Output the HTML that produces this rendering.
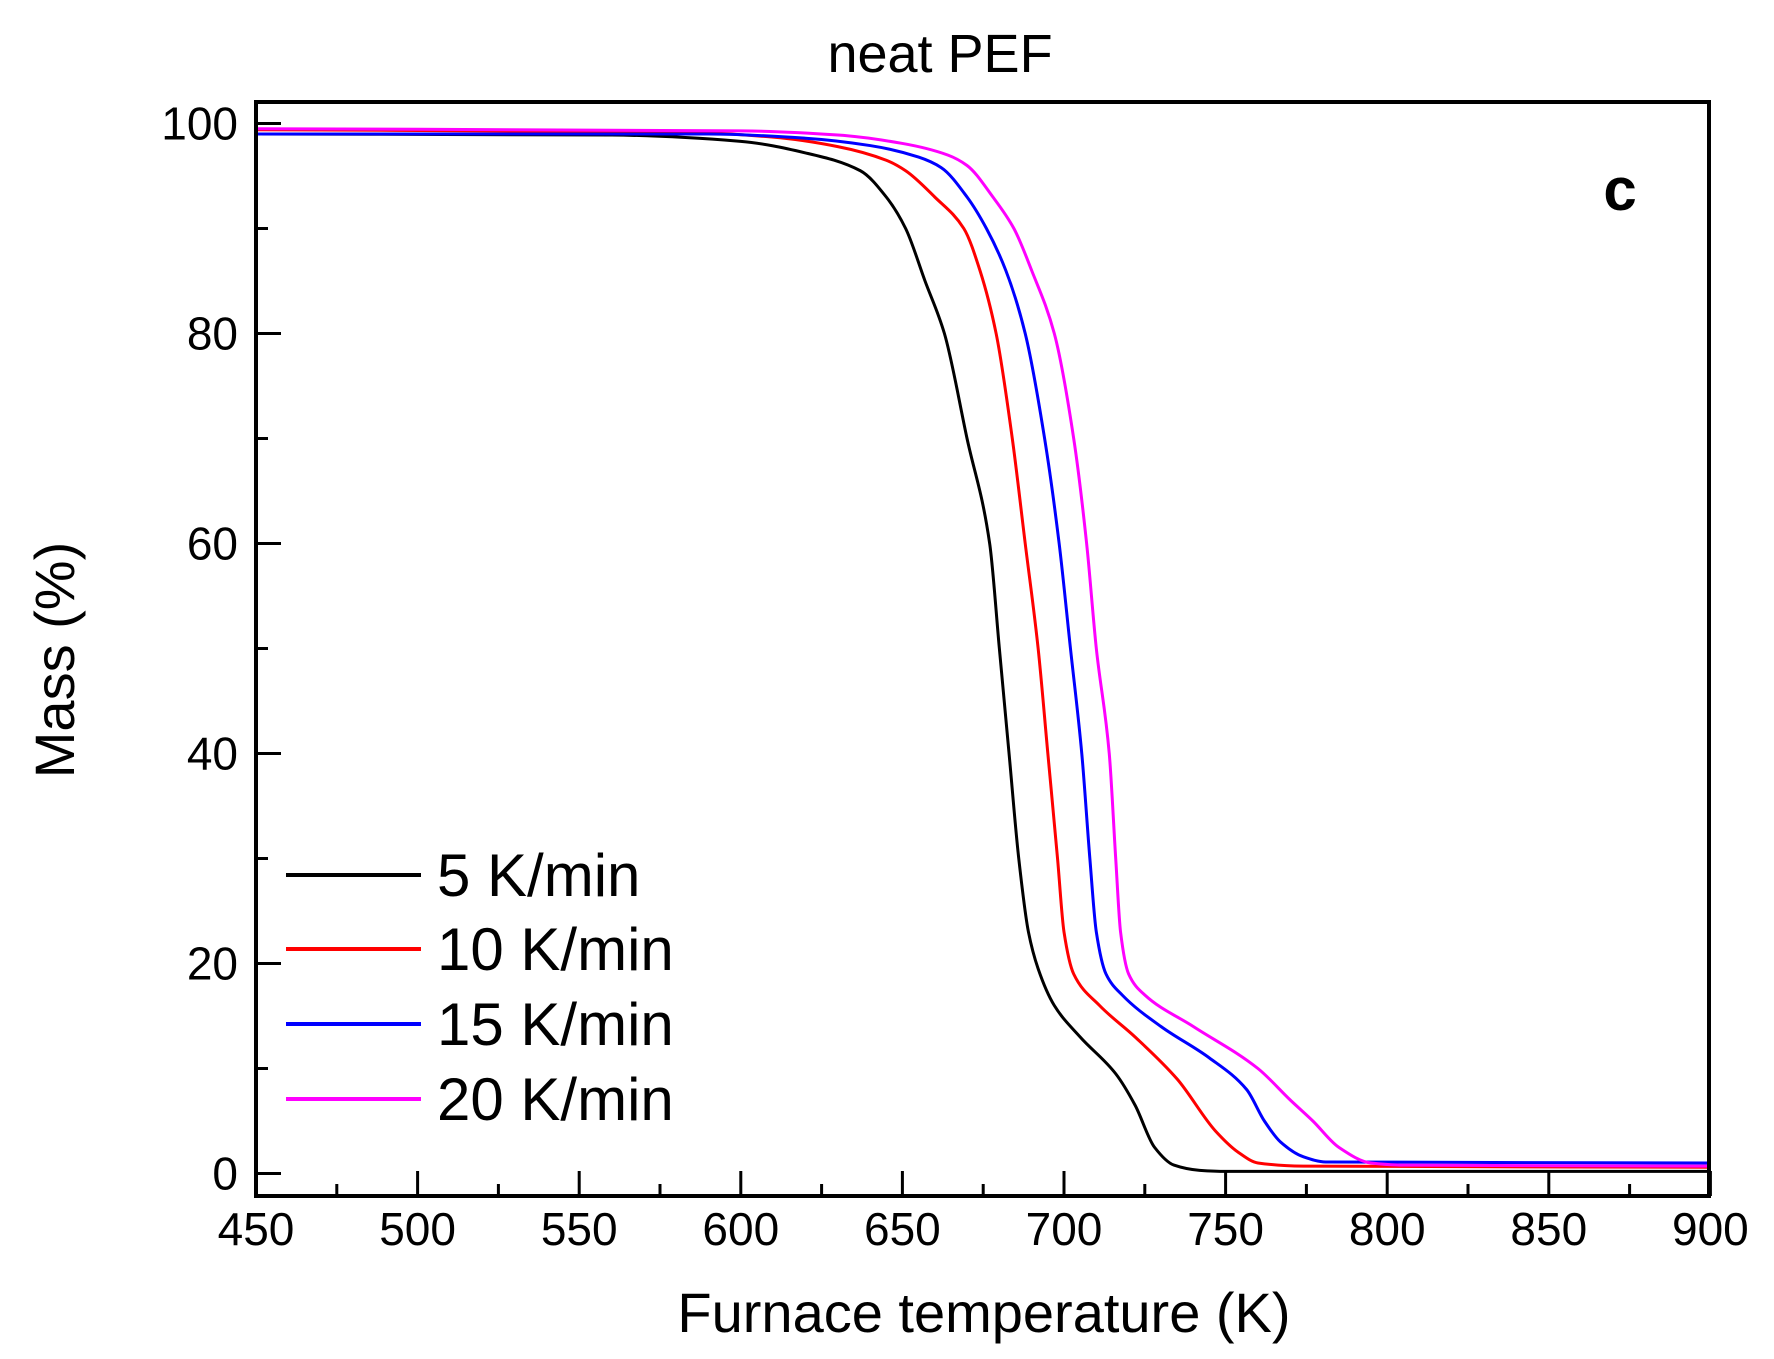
<!DOCTYPE html>
<html><head><meta charset="utf-8"><style>
html,body{margin:0;padding:0;background:#fff}
svg{display:block}
text{font-family:"Liberation Sans",Arial,sans-serif;fill:#000}
</style></head><body>
<svg id="s" width="1774" height="1359" viewBox="0 0 1774 1359" xmlns="http://www.w3.org/2000/svg">
<rect width="1774" height="1359" fill="#fff"/>
<text x="940" y="72" font-size="54" text-anchor="middle">neat PEF</text>
<g id="ticks" stroke="#000" stroke-width="3"></g>
<g id="curves" fill="none" stroke-width="3"></g>
<rect x="256" y="102" width="1453" height="1094" fill="none" stroke="#000" stroke-width="4"/>
<g id="labels" font-size="46"></g>
<text x="1620" y="210" font-size="60" font-weight="bold" text-anchor="middle">c</text>
<text x="984" y="1332" font-size="56" text-anchor="middle">Furnace temperature (K)</text>
<text transform="translate(74,660) rotate(-90)" font-size="56" text-anchor="middle">Mass (%)</text>
<g stroke-width="4">
<line x1="286" y1="875" x2="421" y2="875" stroke="#000"/>
<line x1="286" y1="949" x2="421" y2="949" stroke="#f00"/>
<line x1="286" y1="1024" x2="421" y2="1024" stroke="#00f"/>
<line x1="286" y1="1099" x2="421" y2="1099" stroke="#f0f"/>
</g>
<g font-size="60">
<text x="437" y="896">5 K/min</text>
<text x="437" y="970">10 K/min</text>
<text x="437" y="1045">15 K/min</text>
<text x="437" y="1120">20 K/min</text>
</g>
</svg>
<script>
const NS="http://www.w3.org/2000/svg";
const X=t=>256+(t-450)*3.232, Y=m=>1173.5-m*10.5;
const tk=document.getElementById('ticks'), lb=document.getElementById('labels');
function ln(x1,y1,x2,y2){const l=document.createElementNS(NS,'line');l.setAttribute('x1',x1);l.setAttribute('y1',y1);l.setAttribute('x2',x2);l.setAttribute('y2',y2);tk.appendChild(l);}
function tx(x,y,s,a){const t=document.createElementNS(NS,'text');t.setAttribute('x',x);t.setAttribute('y',y);t.setAttribute('text-anchor',a);t.textContent=s;lb.appendChild(t);}
for(let t=450;t<=900;t+=25){const x=X(t),maj=(t%50==0);ln(x,1196,x,1196-(maj?25:12));if(maj)tx(x,1245,t,'middle');}
for(let m=0;m<=100;m+=10){const y=Y(m),maj=(m%20==0);ln(256,y,256+(maj?25:12),y);if(maj)tx(238,y+16,m,'end');}
const data={
"#000":[[450,99],[560,98.9],[600,98.3],[620,97.2],[637,95.5],[645,93],[651,90],[657,85],[663,80],[670,70],[677,60],[680,50],[683,40],[686,30],[689,23],[692,19.5],[697,16],[705,13],[716,9.5],[722,6.5],[728,2.5],[734,0.8],[742,0.3],[750,0.2],[900,0.2]],
"#f00":[[450,99.4],[580,99.2],[610,98.7],[630,97.8],[645,96.5],[651,95.5],[660,93],[669,90],[674,86],[679,80],[684,70],[688,60],[692,50],[695,40],[698,30],[700,23],[703,19],[711,16],[722,13],[735,9],[747,4],[754,2],[760,1],[774,0.7],[900,0.6]],
"#00f":[[450,99],[590,99],[620,98.6],[640,97.9],[655,96.8],[662,95.8],[670,93],[676,90],[682,86],[688,80],[694,70],[698.5,60],[702,50],[705.5,40],[708,30],[710,23],[713,19],[718,17],[730,14],[745,11],[756.5,8],[762,5],[767,3],[774,1.6],[781,1.1],[900,1.0]],
"#f0f":[[450,99.5],[600,99.3],[630,98.9],[650,98.1],[664,97],[670,96],[678,93],[684.5,90],[690,86],[697,80],[703,70],[707,60],[710,50],[714,40],[716,30],[717.5,23],[720,19],[725,17],[740,14],[760,10],[770,7],[777,5],[785,2.5],[795,1],[805,0.8],[900,0.7]]
};
const g=document.getElementById('curves');
function mono(pts){
 const n=pts.length,x=pts.map(p=>p[0]),y=pts.map(p=>p[1]);
 const d=[],m=new Array(n);
 for(let i=0;i<n-1;i++)d.push((y[i+1]-y[i])/(x[i+1]-x[i]));
 m[0]=d[0];m[n-1]=d[n-2];
 for(let i=1;i<n-1;i++){ if(d[i-1]*d[i]<=0)m[i]=0; else {const w1=2*(x[i+1]-x[i])+(x[i]-x[i-1]),w2=(x[i+1]-x[i])+2*(x[i]-x[i-1]);m[i]=(w1+w2)/(w1/d[i-1]+w2/d[i]);} }
 let s="M"+X(x[0])+","+Y(y[0]);
 for(let i=0;i<n-1;i++){const h=x[i+1]-x[i];
  s+=` C${X(x[i]+h/3)},${Y(y[i]+m[i]*h/3)} ${X(x[i+1]-h/3)},${Y(y[i+1]-m[i+1]*h/3)} ${X(x[i+1])},${Y(y[i+1])}`;}
 return s;
}
for(const c in data){
 const e=document.createElementNS(NS,'path');e.setAttribute('d',mono(data[c]));e.setAttribute('stroke',c);g.appendChild(e);
}
</script>
</body></html>
